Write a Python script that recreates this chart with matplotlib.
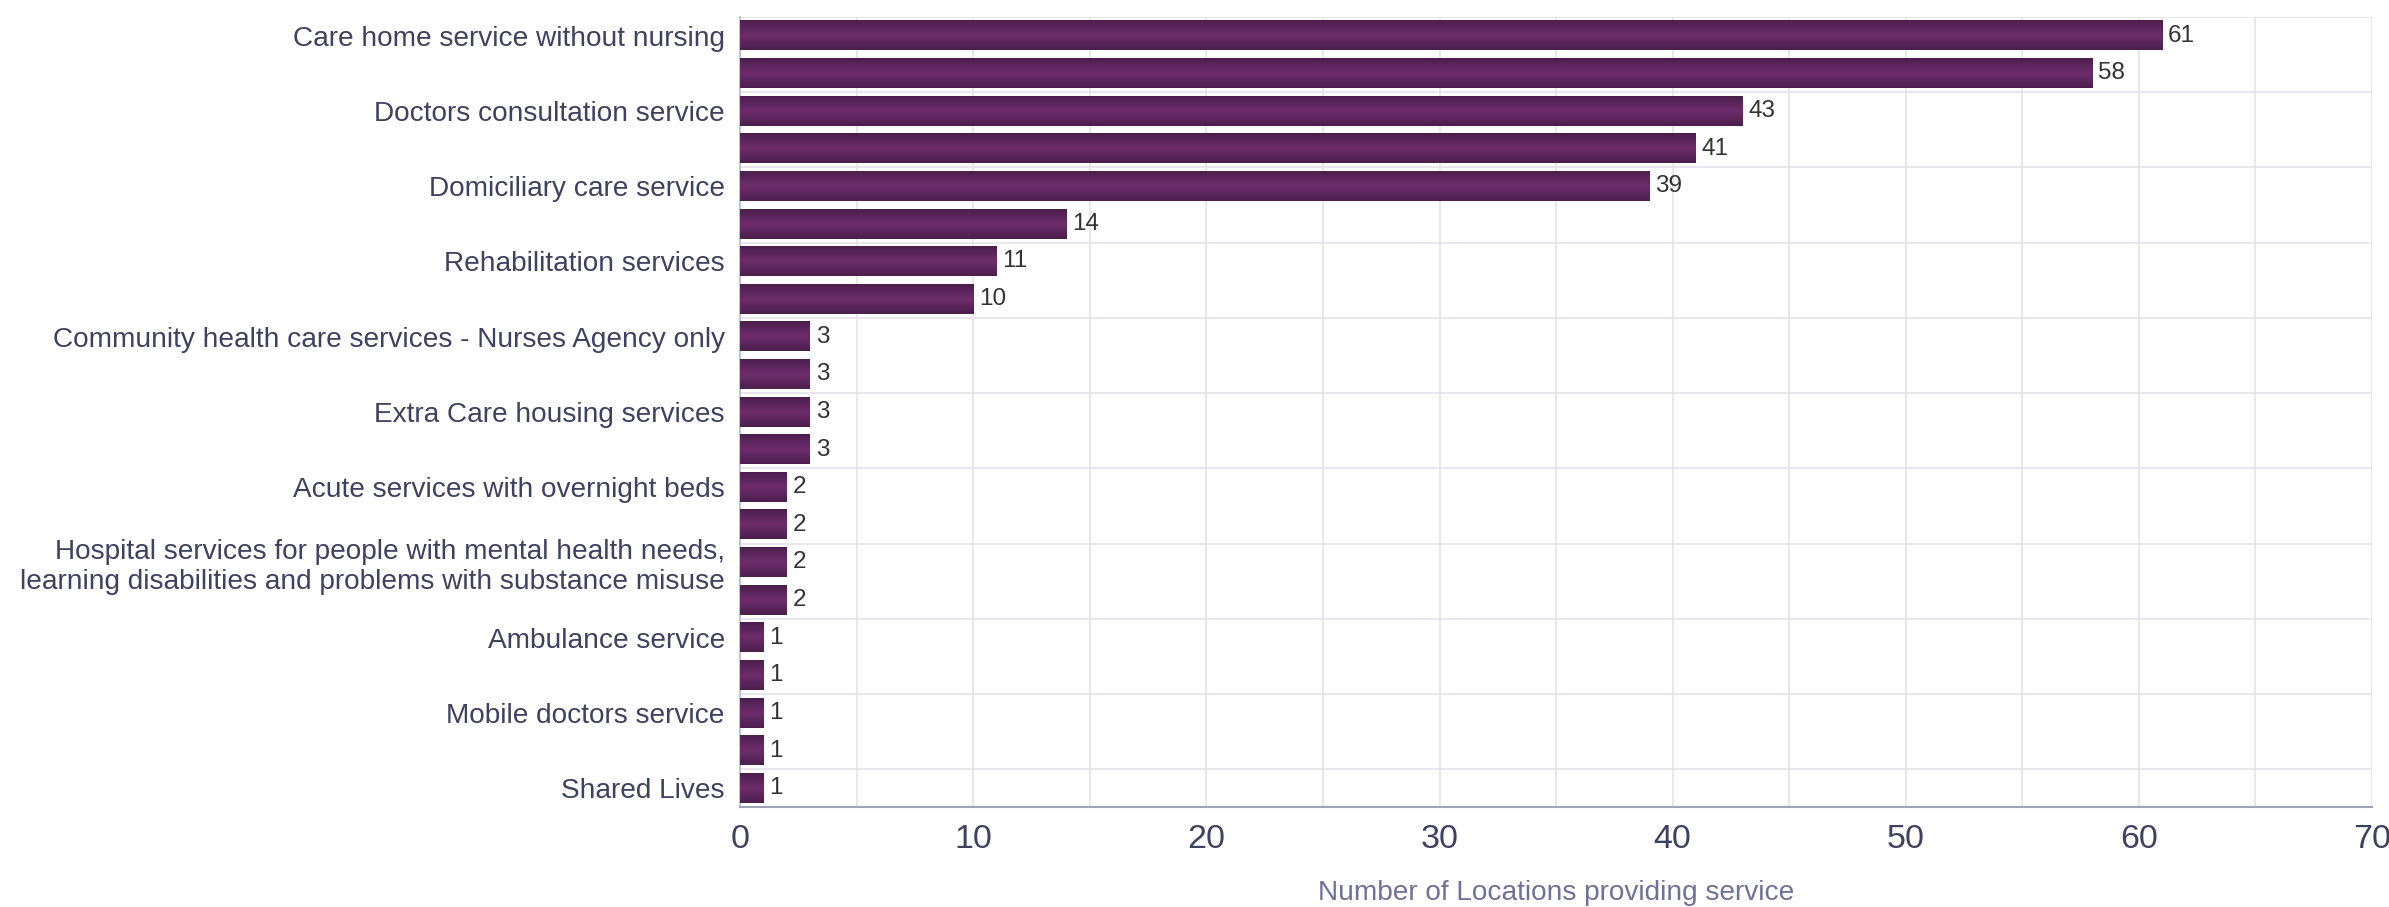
import matplotlib.pyplot as plt
import numpy as np
from matplotlib.colors import LinearSegmentedColormap
from matplotlib.ticker import MultipleLocator

plt.rcParams['font.family'] = ['Liberation Sans', 'DejaVu Sans']

# only every other category name is shown on the chart
services = [
    'Care home service without nursing', '',
    'Doctors consultation service', '',
    'Domiciliary care service', '',
    'Rehabilitation services', '',
    'Community health care services - Nurses Agency only', '',
    'Extra Care housing services', '',
    'Acute services with overnight beds', '',
    'Hospital services for people with mental health needs,\nlearning disabilities and problems with substance misuse', '',
    'Ambulance service', '',
    'Mobile doctors service', '',
    'Shared Lives',
]
locations = [61, 58, 43, 41, 39, 14, 11, 10, 3, 3, 3, 3, 2, 2, 2, 2, 1, 1, 1, 1, 1]

bar_cmap = LinearSegmentedColormap.from_list('bar', ['#4b1f4c', '#6e2d6d', '#4b1f4c'])
grad = np.linspace(0, 1, 64).reshape(-1, 1)

fig = plt.figure(figsize=(23.89, 9.07), dpi=100)
ax = fig.add_axes([0.3098, 0.1103, 0.6831, 0.871])

h = 0.78
for i, v in enumerate(locations):
    ax.imshow(grad, cmap=bar_cmap, aspect='auto', interpolation='bilinear',
              extent=(0, v, i + h / 2, i - h / 2), zorder=3)
    ax.text(v + 0.25, i, str(v), va='center', ha='left', fontsize=17.5, color='#333333', zorder=4)

ax.set_xlim(0, 70)
ax.set_ylim(len(locations) - 0.5, -0.5)

ax.set_yticks(range(0, len(locations), 2))
ax.set_yticklabels(services[::2], fontsize=20.2, color='#3f4160')
ax.set_yticks(list(np.arange(-0.5, len(locations), 2)) + [len(locations) - 0.5], minor=True)
ax.yaxis.set_tick_params(which='both', length=0, pad=11)

ax.xaxis.set_major_locator(MultipleLocator(10))
ax.xaxis.set_minor_locator(MultipleLocator(5))
ax.tick_params(axis='x', which='both', length=0, labelsize=24.5, labelcolor='#3f4160', pad=12)

ax.xaxis.grid(True, which='both', color='#e3e3ea', linewidth=1.2, zorder=0)
ax.yaxis.grid(True, which='minor', color='#e3e3ea', linewidth=1.2, zorder=0)
ax.yaxis.grid(False, which='major')
ax.set_axisbelow(True)

for s in ['top', 'right']:
    ax.spines[s].set_visible(False)
ax.spines['left'].set_color('#c0c4d6')
ax.spines['left'].set_linewidth(1.5)
ax.spines['bottom'].set_color('#9ea3b8')
ax.spines['bottom'].set_linewidth(1.5)

ax.set_xlabel('Number of Locations providing service', fontsize=20.2, color='#6f7199', labelpad=18)

fig.savefig('out.png', dpi=100)
